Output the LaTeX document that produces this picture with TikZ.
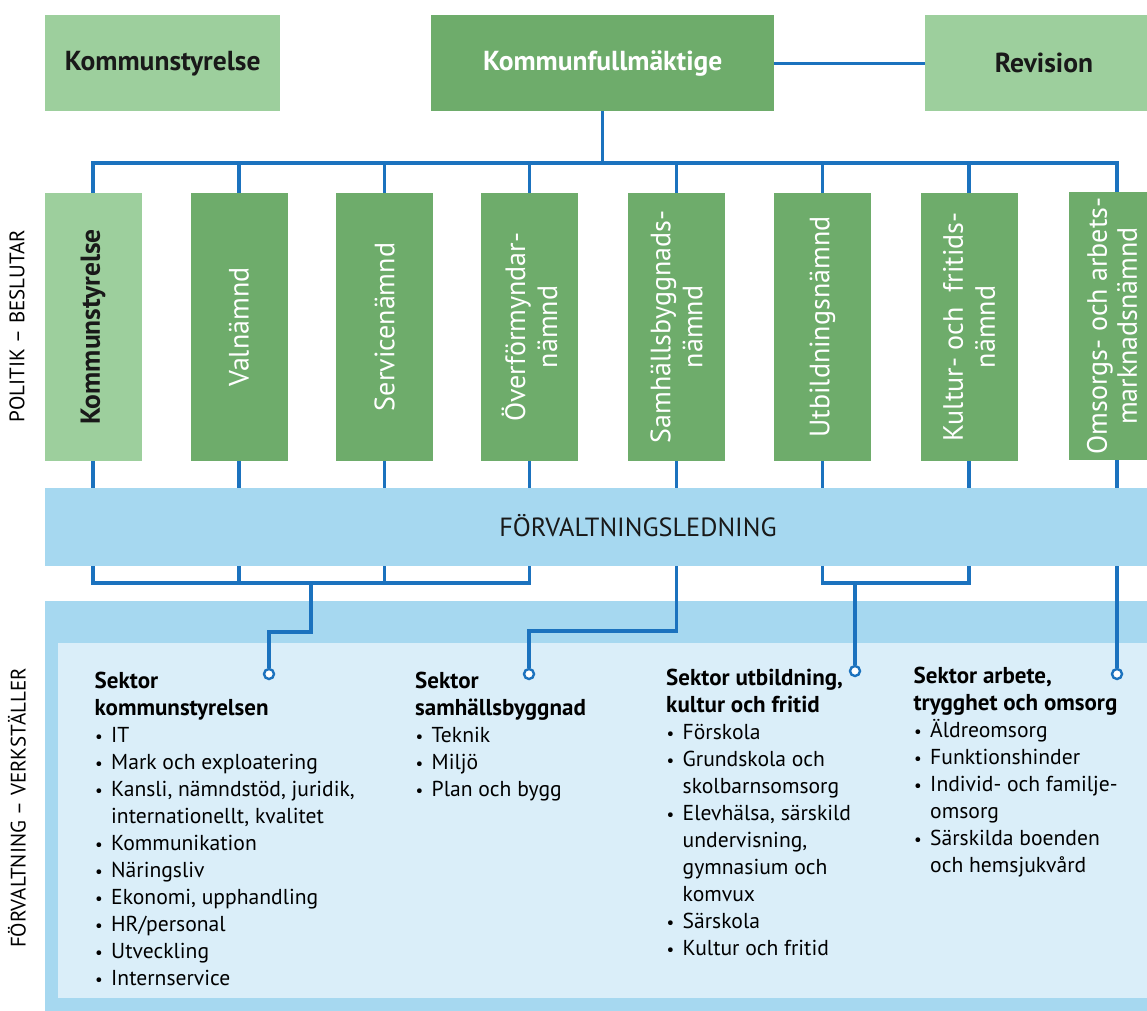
\documentclass[tikz,border=0pt]{standalone}
\usepackage{fontspec}
\setmainfont{PT Sans}
\definecolor{lgreen}{HTML}{9DCF9D}
\definecolor{dgreen}{HTML}{6EAC6B}
\definecolor{bline}{HTML}{1B72BE}
\definecolor{bandc}{HTML}{A6D8F0}
\definecolor{innerc}{HTML}{DAEEF9}
\newcommand\bul{\makebox[16.5pt][l]{\hspace{0.5pt}{\fontsize{17}{27}\selectfont•}}}
\newcommand\ind{\hspace{16.5pt}}
\newcommand\hd[1]{{\fontsize{23}{27}\selectfont\bfseries #1}}
\begin{document}
\begin{tikzpicture}[x=1pt,y=-1pt,
  conn/.style={draw=bline,line width=3.1pt},
  topbox/.style={rectangle,inner sep=0pt,anchor=north west,minimum height=96pt},
  cbox/.style={rectangle,inner sep=0pt,minimum width=97pt,minimum height=268pt},
  vtext/.style={rotate=90,align=center,inner sep=0pt,font=\fontsize{28}{32}\selectfont},
  toptext/.style={font=\fontsize{27.5}{30}\selectfont\bfseries,inner sep=0pt},
  side/.style={rotate=90,inner sep=0pt,font=\fontsize{21}{25}\selectfont},
  dot/.style={circle,draw=bline,fill=white,line width=2.4pt,minimum size=10pt,inner sep=0pt},
  sektor/.style={anchor=base west,inner sep=0pt,font=\fontsize{21.6}{27}\selectfont}
]
\useasboundingbox (0,0) rectangle (1147,1010);
\clip (0,0) rectangle (1147,1010);
\fill[white] (0,0) rectangle (1147,1010);

% top boxes
\node[topbox,fill=lgreen,minimum width=235pt] (ks) at (45,15) {};
\node[topbox,fill=dgreen,minimum width=343pt] (kf) at (431,15) {};
\node[topbox,fill=lgreen,minimum width=235pt] (rev) at (925,15) {};
\node[toptext,text=black!90] (kst) at (ks.center) {Kommunstyrelse};
\node[toptext,text=white] (kft) at (kf.center) {Kommunfullmäktige};
\node[toptext,text=black!90] (revt) at (1044,63) {Revision};

% committees
\node[cbox,fill=lgreen] (n1) at (93,327) {};
\node[cbox,fill=dgreen] (n2) at (239,327) {};
\node[cbox,fill=dgreen] (n3) at (384.5,327) {};
\node[cbox,fill=dgreen] (n4) at (529.5,327) {};
\node[cbox,fill=dgreen] (n5) at (676.5,327) {};
\node[cbox,fill=dgreen] (n6) at (822.5,327) {};
\node[cbox,fill=dgreen] (n7) at (969,327) {};
\node[cbox,fill=dgreen] (n8) at (1117,326) {};
\node[vtext,text=black!90,font=\fontsize{27.5}{32}\selectfont\bfseries] (t1) at (n1.center) {Kommunstyrelse};
\node[vtext,text=white] (t2) at (n2.center) {Valnämnd};
\node[vtext,text=white] (t3) at (n3.center) {Servicenämnd};
\node[vtext,text=white] (t4) at (n4.center) {Överförmyndar-\\nämnd};
\node[vtext,text=white] (t5) at (n5.center) {Samhällsbyggnads-\\nämnd};
\node[vtext,text=white] (t6) at (n6.center) {Utbildningsnämnd};
\node[vtext,text=white] (t7) at (n7.center) {Kultur- och\ \ fritids-\\nämnd};
\node[vtext,text=white,font=\fontsize{28}{30}\selectfont] (t8) at (1112,326) {Omsorgs- och arbets-\\marknadsnämnd};

% side labels
\node[side] (pol) at (17,326) {POLITIK – BESLUTAR};
\node[side] (forv) at (17,808) {FÖRVALTNING – VERKSTÄLLER};

% band
\node[rectangle,fill=bandc,anchor=north west,inner sep=0pt,minimum width=1110pt,minimum height=78pt] (led) at (45,488) {};
\node[inner sep=0pt,font=\fontsize{26.3}{30}\selectfont,text=black!90] (ledt) at (638,526) {FÖRVALTNINGSLEDNING};

% lower area
\node[rectangle,fill=bandc,anchor=north west,inner sep=0pt,minimum width=1110pt,minimum height=420pt] (outer) at (45,601) {};
\node[rectangle,fill=innerc,anchor=north west,inner sep=0pt,minimum width=1100pt,minimum height=355pt] (inner) at (58,643) {};

% top connectors
\coordinate (busL) at (92,163);
\draw[conn] (kf.east) -- (rev.west);
\draw[conn] (kf.south) -- (kf.south |- busL);
\draw[conn] (n1.north) -- (n1.north |- busL) -- (n8.north |- busL) -- (n8.north);
\foreach \n in {n2,n3,n4,n5,n6,n7}{\draw[conn] (\n.north |- busL) -- (\n.north);}
\foreach \n in {n1,n2,n3,n4,n5,n6,n7,n8}{\draw[conn] (\n.south) -- (\n.south |- led.north);}

% dots
\node[dot] (c1) at (269,674) {};
\node[dot] (c2) at (529,674) {};
\node[dot] (c3) at (855,671) {};
\node[dot] (c4) at (1117,674) {};

% lower connectors
\coordinate (busA) at (311,583);
\coordinate (stepA) at (311,632);
\coordinate (stepB) at (529,631);
\coordinate (busC) at (855,583);
\draw[conn] (n1.south |- led.south) -- (n1.south |- busA) -- (n4.south |- busA) -- (n4.south |- led.south);
\draw[conn] (n2.south |- led.south) -- (n2.south |- busA);
\draw[conn] (n3.south |- led.south) -- (n3.south |- busA);
\draw[conn] (busA) -- (stepA) -- (c1.north |- stepA) -- (c1.north);
\draw[conn] (n5.south |- led.south) -- (n5.south |- stepB) -- (stepB) -- (c2.north);
\draw[conn] (n6.south |- led.south) -- (n6.south |- busC) -- (n7.south |- busC) -- (n7.south |- led.south);
\draw[conn] (busC) -- (c3.north);
\draw[conn] (n8.south |- led.south) -- (c4.north);

% sector texts
\node[sektor] (s1) at (94.5,688) {\begin{tabular}[t]{@{}l@{}}
\hd{Sektor}\\
\hd{kommunstyrelsen}\\
\bul IT\\
\bul Mark och exploatering\\
\bul Kansli, nämndstöd, juridik,\\
\ind internationellt, kvalitet\\
\bul Kommunikation\\
\bul Näringsliv\\
\bul Ekonomi, upphandling\\
\bul HR/personal\\
\bul Utveckling\\
\bul Internservice
\end{tabular}};
\node[sektor] (s2) at (415,688) {\begin{tabular}[t]{@{}l@{}}
\hd{Sektor}\\
\hd{samhällsbyggnad}\\
\bul Teknik\\
\bul Miljö\\
\bul Plan och bygg
\end{tabular}};
\node[sektor] (s3) at (666,685) {\begin{tabular}[t]{@{}l@{}}
\hd{Sektor utbildning,}\\
\hd{kultur och fritid}\\
\bul Förskola\\
\bul Grundskola och\\
\ind skolbarnsomsorg\\
\bul Elevhälsa, särskild\\
\ind undervisning,\\
\ind gymnasium och\\
\ind komvux\\
\bul Särskola\\
\bul Kultur och fritid
\end{tabular}};
\node[sektor] (s4) at (913.5,683) {\begin{tabular}[t]{@{}l@{}}
\hd{Sektor arbete,}\\
\hd{trygghet och omsorg}\\
\bul Äldreomsorg\\
\bul Funktionshinder\\
\bul Individ- och familje-\\
\ind omsorg\\
\bul Särskilda boenden\\
\ind och hemsjukvård
\end{tabular}};
\end{tikzpicture}
\end{document}
